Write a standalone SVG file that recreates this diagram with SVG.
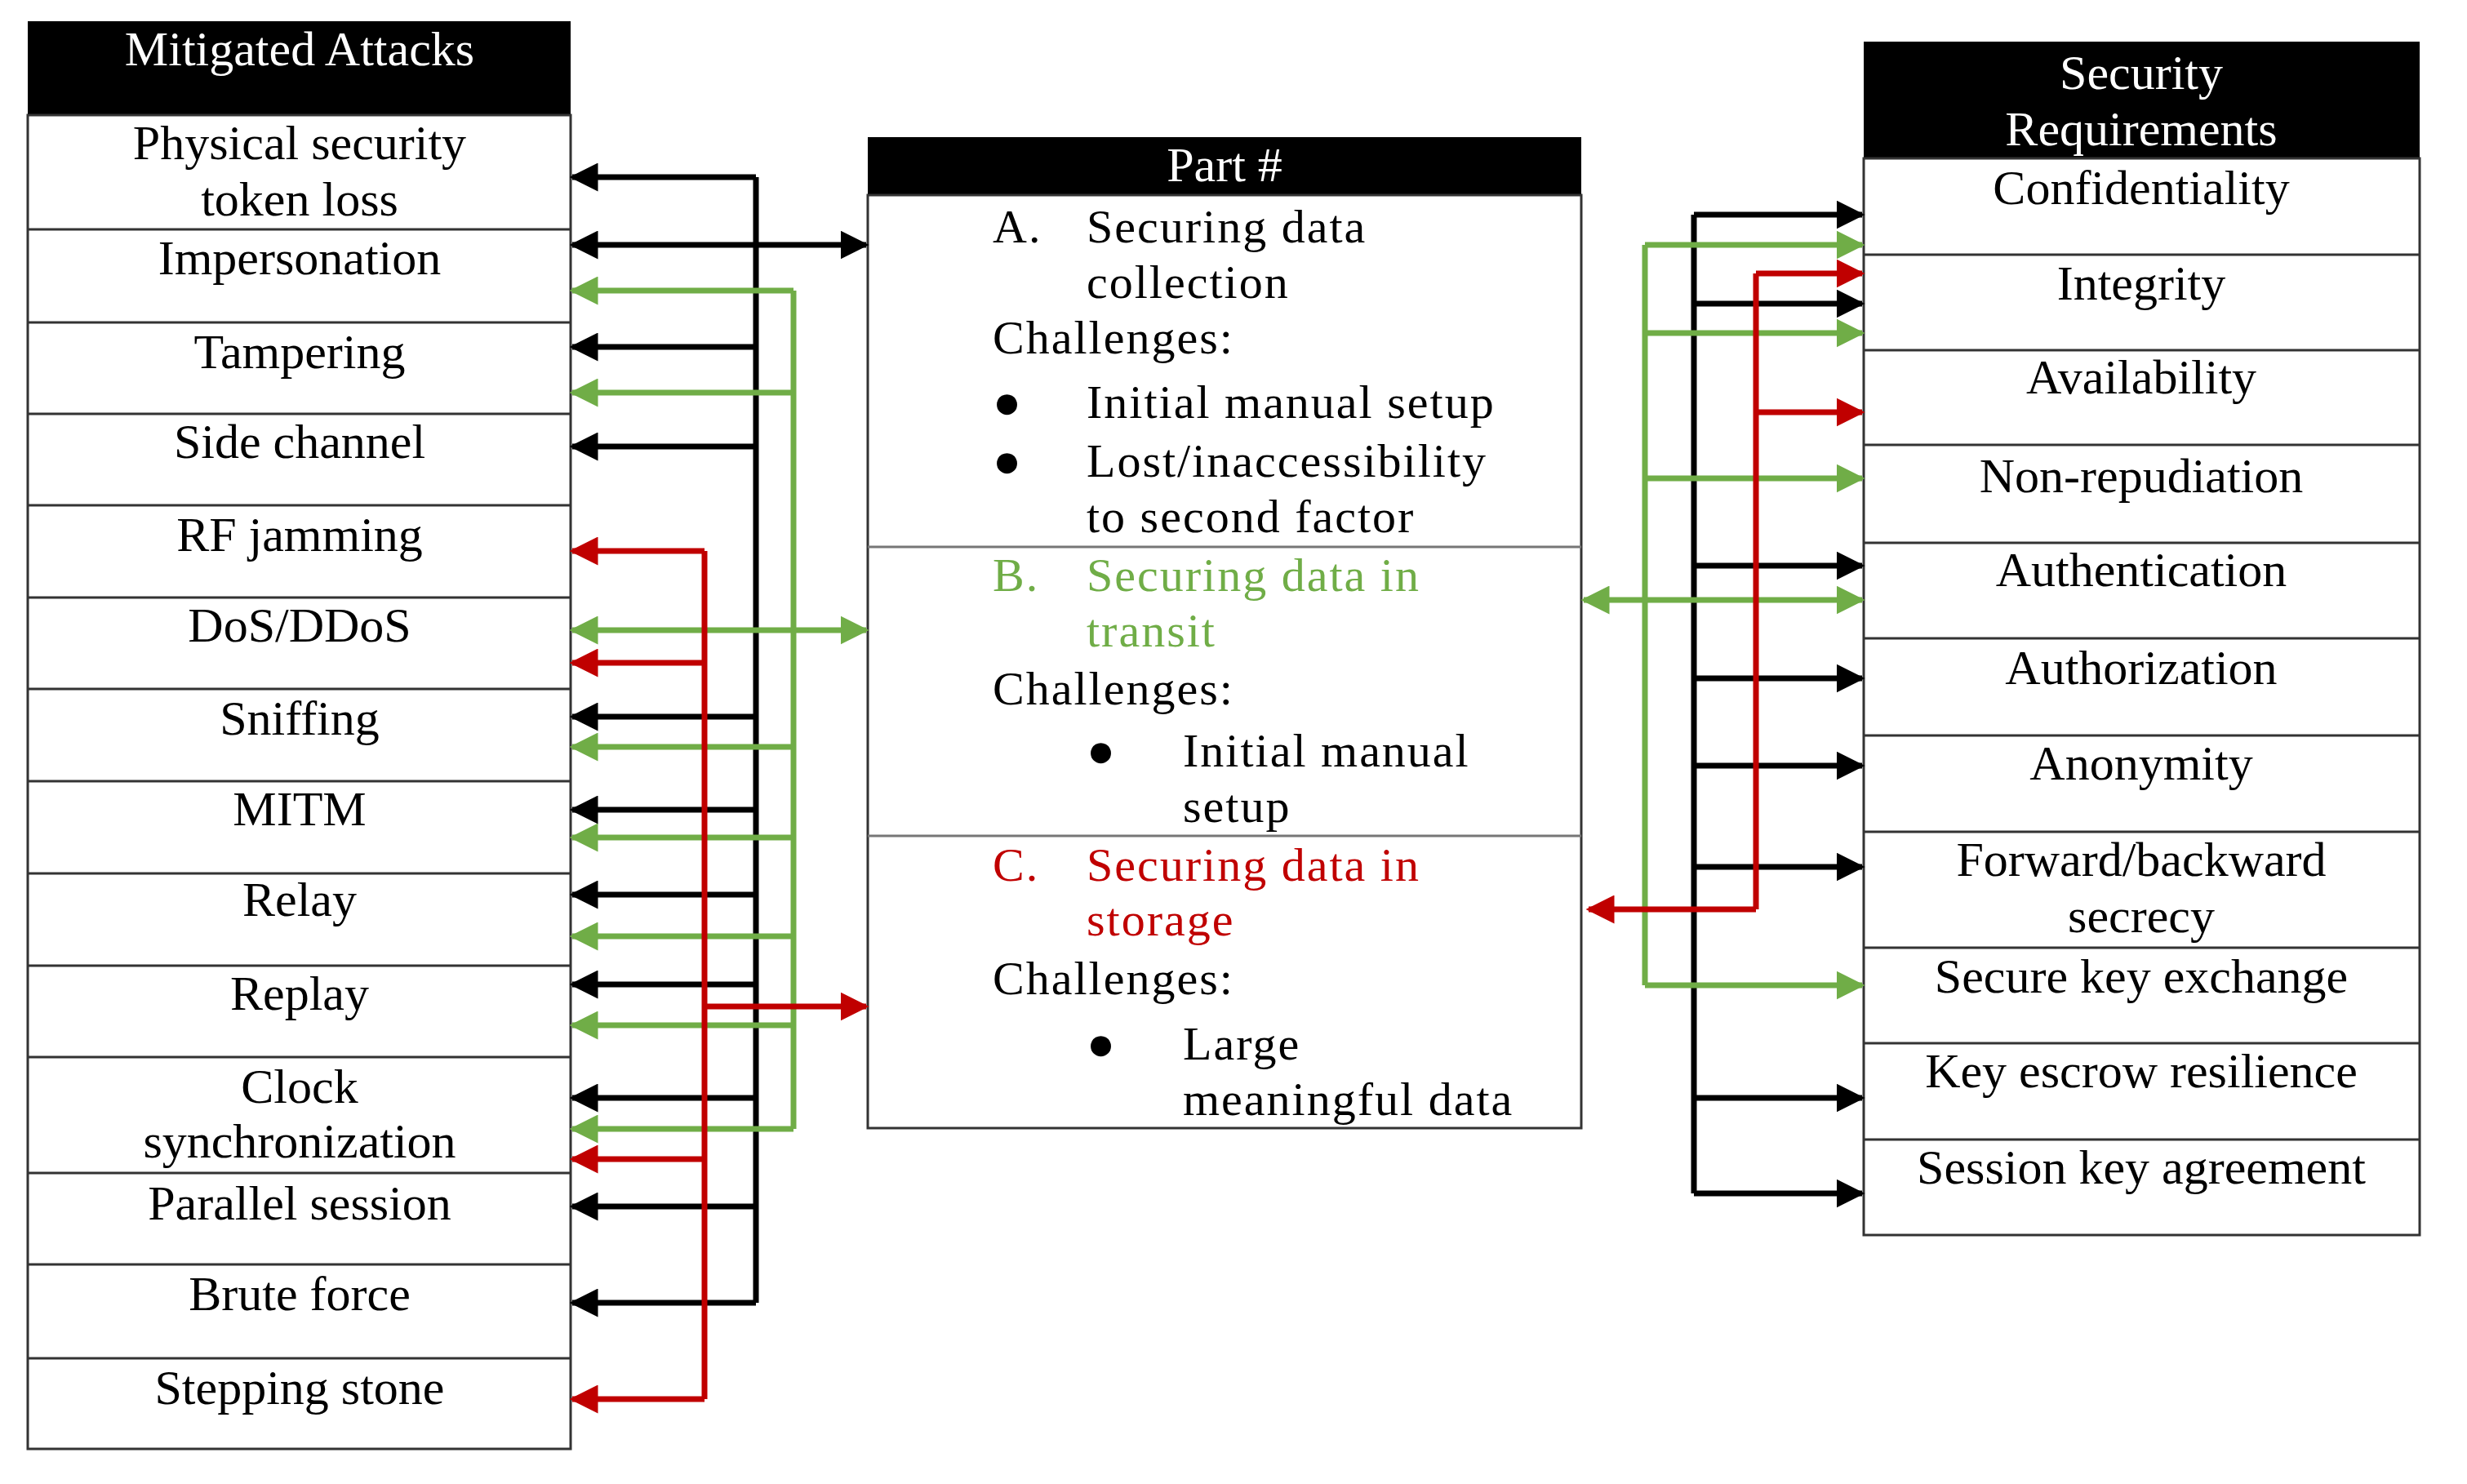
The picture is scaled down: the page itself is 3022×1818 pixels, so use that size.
<svg xmlns="http://www.w3.org/2000/svg" width="3022" height="1818" viewBox="0 0 3022 1818">
<style>
.t{font-family:'Liberation Serif','DejaVu Serif',serif;font-size:60px;fill:#000}
.c{text-anchor:middle}
.w{fill:#fff}
.g{fill:#70ad47}.r{fill:#c00000}
.box{fill:#fff;stroke:#333;stroke-width:3}
.hd{fill:#000}
.ln{fill:none;stroke-width:7;stroke-linejoin:miter}
.k{stroke:#000}.gl{stroke:#70ad47}.rl{stroke:#c00000}
.ct{font-size:58px;letter-spacing:2px}
</style>
<defs>
<marker id="ak" viewBox="0 0 10 10" refX="9" refY="5" markerWidth="5" markerHeight="5" orient="auto-start-reverse" markerUnits="strokeWidth"><path d="M0,0L10,5L0,10z" fill="#000"/></marker>
<marker id="ag" viewBox="0 0 10 10" refX="9" refY="5" markerWidth="5" markerHeight="5" orient="auto-start-reverse" markerUnits="strokeWidth"><path d="M0,0L10,5L0,10z" fill="#70ad47"/></marker>
<marker id="ar" viewBox="0 0 10 10" refX="9" refY="5" markerWidth="5" markerHeight="5" orient="auto-start-reverse" markerUnits="strokeWidth"><path d="M0,0L10,5L0,10z" fill="#c00000"/></marker>
</defs>

<g id="attacks">
<rect class="hd" x="34" y="26" width="665" height="115"/>
<text class="t c w" x="367" y="80">Mitigated Attacks</text>
<rect class="box" x="34" y="141" width="665" height="1634"/>
<path d="M34 281H699M34 395H699M34 507H699M34 619H699M34 732H699M34 844H699M34 957H699M34 1070H699M34 1183H699M34 1295H699M34 1437H699M34 1549H699M34 1664H699" stroke="#333" stroke-width="3"/>
<text class="t c" x="367" y="195">Physical security</text>
<text class="t c" x="367" y="264">token loss</text>
<text class="t c" x="367" y="336">Impersonation</text>
<text class="t c" x="367" y="451">Tampering</text>
<text class="t c" x="367" y="561">Side channel</text>
<text class="t c" x="367" y="675">RF jamming</text>
<text class="t c" x="367" y="786">DoS/DDoS</text>
<text class="t c" x="367" y="900">Sniffing</text>
<text class="t c" x="367" y="1011">MITM</text>
<text class="t c" x="367" y="1122">Relay</text>
<text class="t c" x="367" y="1237">Replay</text>
<text class="t c" x="367" y="1351">Clock</text>
<text class="t c" x="367" y="1418">synchronization</text>
<text class="t c" x="367" y="1494">Parallel session</text>
<text class="t c" x="367" y="1605">Brute force</text>
<text class="t c" x="367" y="1720">Stepping stone</text>
</g>

<g id="parts">
<rect class="hd" x="1063" y="168" width="874" height="71"/>
<text class="t c w" x="1500" y="222">Part #</text>
<rect class="box" x="1063" y="239" width="874" height="1143"/>
<path d="M1063 670H1937M1063 1024H1937" stroke="#777" stroke-width="3"/>
<g class="t ct">
<text x="1216" y="297">A.</text><text x="1331" y="297">Securing data</text>
<text x="1331" y="365">collection</text>
<text x="1216" y="433">Challenges:</text>
<text x="1216" y="512">●</text><text x="1331" y="512">Initial manual setup</text>
<text x="1216" y="584">●</text><text x="1331" y="584">Lost/inaccessibility</text>
<text x="1331" y="652">to second factor</text>
<text class="g" x="1216" y="724">B.</text><text class="g" x="1331" y="724">Securing data in</text>
<text class="g" x="1331" y="792">transit</text>
<text x="1216" y="863">Challenges:</text>
<text x="1331" y="939">●</text><text x="1449" y="939">Initial manual</text>
<text x="1449" y="1007">setup</text>
<text class="r" x="1216" y="1079">C.</text><text class="r" x="1331" y="1079">Securing data in</text>
<text class="r" x="1331" y="1146">storage</text>
<text x="1216" y="1218">Challenges:</text>
<text x="1331" y="1298">●</text><text x="1449" y="1298">Large</text>
<text x="1449" y="1366">meaningful data</text>
</g>
</g>

<g id="requirements">
<rect class="hd" x="2283" y="51" width="681" height="143"/>
<text class="t c w" x="2623" y="109">Security</text>
<text class="t c w" x="2623" y="178">Requirements</text>
<rect class="box" x="2283" y="194" width="681" height="1319"/>
<path d="M2283 312H2964M2283 429H2964M2283 545H2964M2283 665H2964M2283 782H2964M2283 901H2964M2283 1019H2964M2283 1161H2964M2283 1278H2964M2283 1396H2964" stroke="#333" stroke-width="3"/>
<text class="t c" x="2623" y="250">Confidentiality</text>
<text class="t c" x="2623" y="367">Integrity</text>
<text class="t c" x="2623" y="482">Availability</text>
<text class="t c" x="2623" y="603">Non-repudiation</text>
<text class="t c" x="2623" y="718">Authentication</text>
<text class="t c" x="2623" y="838">Authorization</text>
<text class="t c" x="2623" y="955">Anonymity</text>
<text class="t c" x="2623" y="1073">Forward/backward</text>
<text class="t c" x="2623" y="1142">secrecy</text>
<text class="t c" x="2623" y="1216">Secure key exchange</text>
<text class="t c" x="2623" y="1332">Key escrow resilience</text>
<text class="t c" x="2623" y="1450">Session key agreement</text>
</g>

<g id="connectors">
<path class="ln k" d="M926 217V1596"/>
<g class="ln k" marker-end="url(#ak)">
<path d="M926 217H701"/><path d="M926 425H701"/><path d="M926 547H701"/><path d="M926 878H701"/><path d="M926 992H701"/><path d="M926 1096H701"/><path d="M926 1206H701"/><path d="M926 1345H701"/><path d="M926 1478H701"/><path d="M926 1596H701"/>
</g>
<path class="ln k" d="M701 300H1061" marker-start="url(#ak)" marker-end="url(#ak)"/>
<path class="ln gl" d="M972 356V1383"/>
<g class="ln gl" marker-end="url(#ag)">
<path d="M972 356H701"/><path d="M972 481H701"/><path d="M972 915H701"/><path d="M972 1026H701"/><path d="M972 1147H701"/><path d="M972 1256H701"/><path d="M972 1383H701"/>
</g>
<path class="ln gl" d="M701 772H1061" marker-start="url(#ag)" marker-end="url(#ag)"/>
<path class="ln rl" d="M863 675V1714"/>
<g class="ln rl" marker-end="url(#ar)">
<path d="M863 675H701"/><path d="M863 812H701"/><path d="M863 1420H701"/><path d="M863 1714H701"/><path d="M863 1233H1061"/>
</g>
<path class="ln k" d="M2075 263V1462"/>
<g class="ln k" marker-end="url(#ak)">
<path d="M2075 263H2281"/><path d="M2075 372H2281"/><path d="M2075 693H2281"/><path d="M2075 831H2281"/><path d="M2075 938H2281"/><path d="M2075 1062H2281"/><path d="M2075 1345H2281"/><path d="M2075 1462H2281"/>
</g>
<path class="ln gl" d="M2015 300V1207"/>
<g class="ln gl" marker-end="url(#ag)">
<path d="M2015 300H2281"/><path d="M2015 408H2281"/><path d="M2015 586H2281"/><path d="M2015 1207H2281"/>
</g>
<path class="ln gl" d="M1940 735H2281" marker-start="url(#ag)" marker-end="url(#ag)"/>
<path class="ln rl" d="M2151 335V1114"/>
<g class="ln rl" marker-end="url(#ar)">
<path d="M2151 335H2281"/><path d="M2151 505H2281"/><path d="M2151 1114H1946"/>
</g>
</g>
</svg>
